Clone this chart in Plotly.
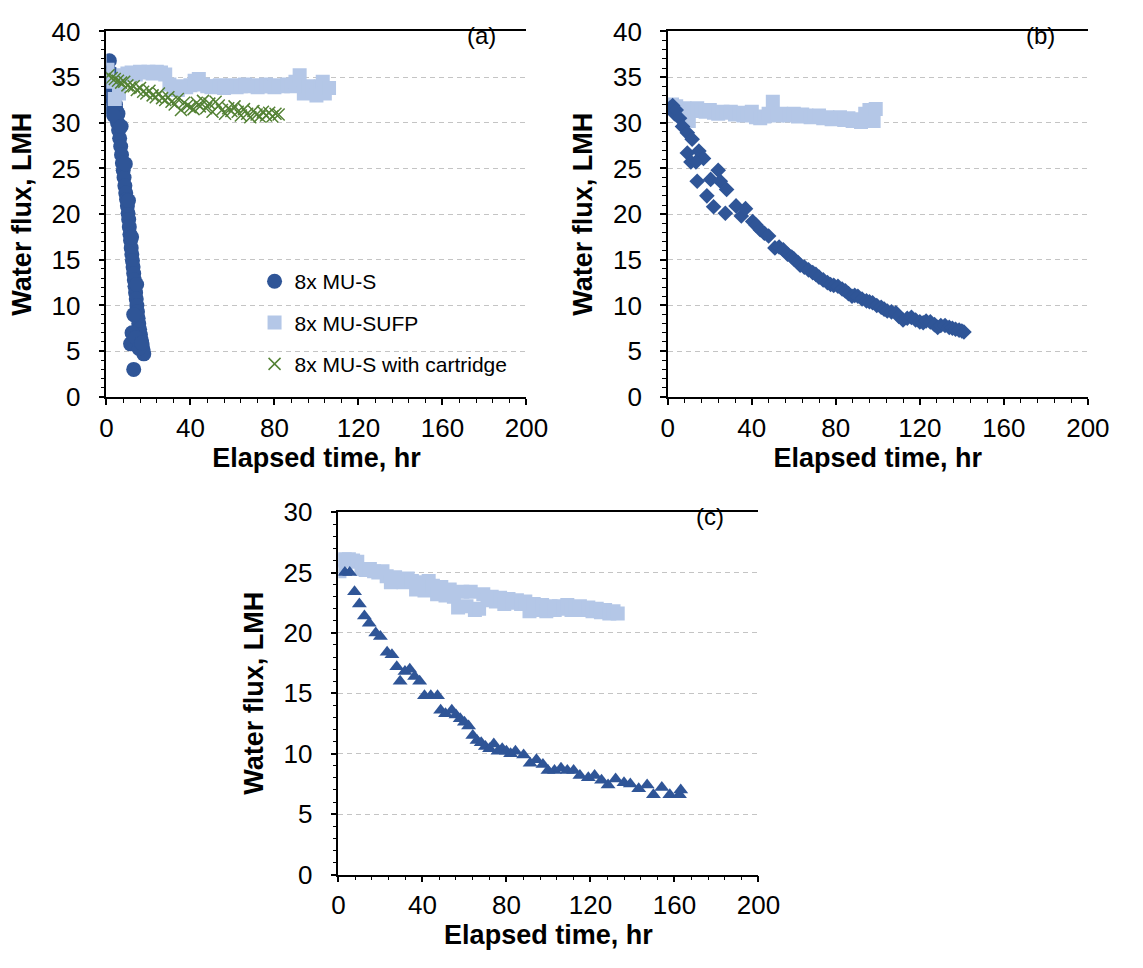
import plotly.graph_objects as go

# ---------------- data ----------------
# (a) 8x MU-S
a_mus_t = [0.3, 0.6, 1.0, 1.4, 1.8, 2.2, 2.6, 3.0, 3.4, 3.8, 4.3, 4.8, 5.3, 5.8, 6.3,
           6.8, 7.2, 7.6, 8.0, 8.4, 8.8, 9.2, 9.6, 10.0, 10.3, 10.6, 10.9, 11.2, 11.5,
           11.8, 12.1, 12.4, 12.7, 13.0, 13.3, 13.6, 13.9, 14.2, 14.5, 14.8, 15.1, 15.4,
           15.8, 16.2, 16.6, 17.0, 17.4, 17.8, 11.5, 12.2, 13.0, 14.0, 15.5, 16.8, 13.0,
           4.5, 5.5, 2.0, 1.0, 0.5, 3.5, 7.0, 9.0, 10.5, 12.0, 14.4]
a_mus_v = [31.8, 33.0, 35.5, 36.8, 34.2, 32.5, 31.2, 33.8, 32.6, 31.0, 32.0, 30.8, 30.0,
           29.2, 28.3, 27.4, 26.5, 25.6, 24.8, 24.0, 23.1, 22.3, 21.6, 20.9, 20.1, 19.4,
           18.6, 17.8, 17.1, 16.3, 15.6, 14.9, 14.2, 13.5, 12.8, 12.1, 11.4, 10.7, 10.0,
           9.3, 8.6, 8.0, 7.4, 6.8, 6.2, 5.7, 5.2, 4.7, 5.8, 7.0, 9.0, 6.5, 5.3, 5.9, 3.0,
           31.5, 31.0, 35.5, 34.0, 33.0, 30.8, 29.6, 25.5, 21.5, 17.5, 12.3]

# (a) 8x MU-SUFP
a_sufp_t = [0.5, 2, 4, 6, 8, 10, 12, 14, 16, 18, 20, 22, 24, 26, 28, 30, 32, 34, 36, 38,
            40, 42, 44, 46, 48, 50, 52, 54, 56, 58, 60, 62, 64, 66, 68, 70, 72, 74, 76,
            78, 80, 82, 84, 86, 88, 90, 92, 94, 96, 98, 100, 102, 103, 104, 106]
a_sufp_v = [35.8, 34.5, 32.6, 33.2, 35.2, 35.4, 35.5, 35.3, 35.6, 35.5, 35.6, 35.4, 35.6,
            35.5, 35.3, 34.2, 33.8, 33.6, 34.0, 33.9, 34.1, 34.6, 34.8, 34.2, 34.0, 33.9,
            34.0, 34.1, 33.8, 34.0, 34.1, 33.9, 34.0, 34.2, 34.0, 34.1, 33.9, 34.0, 34.2,
            34.0, 33.9, 34.1, 34.0, 34.2, 34.0, 34.5, 35.2, 33.2, 34.0, 33.6, 33.0, 34.0,
            34.5, 33.2, 33.8]

# (a) 8x MU-S with cartridge
a_cart_t = [1, 2.5, 4, 5.5, 7, 8.5, 10, 11.5, 13, 14.5, 16, 17.5, 19, 20.5, 22, 23.5, 25,
            26.5, 28, 29.5, 31, 32.5, 34, 35.5, 37, 38.5, 40, 41.5, 43, 44.5, 46, 47.5, 49,
            50.5, 52, 53.5, 55, 56.5, 58, 59.5, 61, 62.5, 64, 65.5, 67, 68.5, 70, 71.5, 73,
            74.5, 76, 77.5, 79, 80.5, 82]
a_cart_v = [35.2, 34.9, 34.8, 34.6, 34.4, 34.5, 34.1, 33.9, 34.0, 33.6, 33.8, 33.4, 33.2,
            33.5, 33.0, 32.8, 33.2, 32.7, 32.5, 32.8, 32.3, 32.0, 32.6, 31.4, 32.2, 31.9,
            31.7, 31.5, 32.2, 31.8, 32.4, 31.6, 32.1, 31.2, 32.3, 31.9, 31.4, 31.0, 31.6,
            31.3, 31.8, 31.2, 30.8, 31.5, 31.0, 30.6, 31.3, 30.9, 30.7, 31.2, 30.8, 31.1,
            30.7, 31.0, 30.9]

# (b) 8x MU-SUFP
b_sufp_t = [0, 2, 4, 6, 8, 10, 12, 14, 16, 18, 20, 22, 24, 26, 28, 30, 32, 34, 36, 38, 40,
            42, 44, 46, 48, 50, 52, 54, 56, 58, 60, 62, 64, 66, 68, 70, 72, 74, 76, 78, 80,
            82, 84, 86, 88, 90, 92, 94, 96, 98, 99]
b_sufp_v = [31.6, 32.0, 31.8, 31.5, 31.6, 30.2, 31.4, 31.6, 31.3, 31.2, 31.4, 31.1, 31.0,
            31.2, 31.1, 31.2, 30.9, 31.1, 30.8, 31.0, 31.2, 30.6, 30.5, 30.7, 31.0, 32.3,
            30.8, 31.0, 30.9, 30.8, 31.0, 30.7, 30.9, 30.8, 30.6, 30.7, 30.8, 30.5, 30.6,
            30.4, 30.5, 30.6, 30.3, 30.5, 30.2, 30.4, 30.1, 31.0, 31.4, 30.2, 31.5]

# (b) 8x MU-S
b_mus_t = [1.0, 2.3, 3.2, 4.0, 5.6, 7.0, 9.3, 11.6, 9.3, 14.8, 17.0, 11.0, 13.4, 24.0, 20.4,
           14.0, 25.0, 28.0, 18.6, 21.8, 27.4, 32.5, 35.0, 37.0, 40.4, 42.0, 44.0, 46.0,
           48.0, 51.0, 53.0, 55.0, 57.0, 59.0, 60.0, 62.0, 63.0, 65.0, 67.0, 69.0, 70.5,
           72.0, 74.0, 76.0, 77.5, 79.0, 81.0, 83.0, 84.5, 86.0, 87.7, 89.0, 90.5, 92.5,
           94.6, 96.0, 97.5, 99.5, 101.6, 103.0, 104.5, 106.5, 108.6, 110.0, 112.0, 114.0,
           116.0, 118.0, 120.0, 121.6, 123.0, 125.0, 127.0, 128.5, 130.0, 132.0, 134.0,
           135.5, 137.0, 138.7, 140.0, 141.0]
b_mus_v = [31.6, 31.9, 31.0, 31.4, 30.5, 29.6, 28.9, 28.2, 26.7, 26.9, 26.1, 25.7, 25.7,
           24.8, 23.8, 23.6, 23.6, 22.7, 22.0, 20.8, 20.1, 20.9, 19.8, 20.6, 19.2, 18.8,
           18.3, 17.9, 17.6, 16.3, 16.4, 16.1, 15.6, 15.3, 15.1, 14.7, 14.4, 14.2, 13.9,
           13.6, 13.4, 13.1, 12.8, 12.5, 12.3, 12.2, 12.1, 11.8, 11.6, 11.3, 11.0, 11.1,
           11.0, 10.7, 10.5, 10.4, 10.3, 10.0, 9.8, 9.6, 9.4, 9.3, 9.2, 8.8, 8.4, 8.6, 8.7,
           8.4, 8.2, 8.1, 8.3, 8.2, 7.9, 7.6, 7.8, 7.8, 7.6, 7.5, 7.4, 7.3, 7.2, 7.1]

# (c) 8x MU-SUFP
c_sufp_t = [0.5, 1.5, 3, 5, 7, 9, 11, 13, 15, 17, 19, 21, 23, 25, 27, 29, 31, 33, 35, 37,
            39, 41, 43, 45, 47, 49, 51, 53, 55, 57, 59, 61, 63, 65, 67, 69, 71, 73, 75, 77,
            79, 81, 83, 85, 87, 89, 91, 93, 95, 97, 99, 101, 103, 105, 107, 109, 111, 113,
            115, 117, 119, 121, 123, 125, 127, 129, 131, 133]
c_sufp_v = [25.1, 26.0, 26.1, 26.1, 26.0, 25.9, 25.3, 25.2, 25.3, 25.1, 25.0, 25.1, 24.7,
            24.2, 24.6, 24.4, 24.2, 24.5, 24.3, 23.6, 24.2, 23.5, 24.3, 23.9, 23.2, 23.8,
            23.1, 23.6, 23.0, 22.1, 23.4, 22.2, 23.4, 21.9, 22.0, 23.2, 22.7, 23.0, 22.6,
            22.9, 22.4, 22.8, 22.5, 22.7, 22.4, 22.6, 21.8, 22.4, 21.9, 22.3, 21.8, 22.2,
            21.9, 22.2, 22.0, 22.3, 21.9, 22.1, 22.2, 21.9, 22.1, 21.8, 22.0, 21.7, 21.9,
            21.6, 21.8, 21.6]

# (c) 8x MU-S
c_mus_t = [3.1, 5.4, 7.7, 10.0, 12.4, 14.7, 17.8, 20.0, 23.2, 25.5, 27.8, 29.4, 31.7, 34.0,
           36.3, 38.7, 41.0, 44.0, 47.2, 48.7, 51.0, 54.0, 56.0, 58.0, 60.0, 62.0, 64.0,
           66.0, 68.0, 70.0, 72.0, 74.0, 76.0, 78.0, 80.0, 82.0, 84.3, 88.2, 91.3, 94.3,
           97.4, 99.8, 102.9, 106.0, 109.0, 112.0, 115.0, 119.0, 122.0, 125.3, 128.4,
           132.0, 136.0, 139.0, 143.0, 147.0, 150.0, 154.0, 157.8, 162.4, 163.0]
c_mus_v = [25.0, 25.0, 23.4, 22.4, 21.4, 20.8, 20.0, 19.7, 18.4, 18.2, 17.2, 16.0, 16.8,
           17.0, 16.4, 16.0, 14.8, 14.8, 14.8, 13.6, 13.3, 13.6, 13.2, 12.9, 12.6, 12.3,
           11.5, 11.1, 10.9, 10.6, 10.4, 10.8, 10.2, 10.4, 10.2, 10.0, 10.2, 9.9, 9.2, 9.5,
           9.1, 8.6, 8.6, 8.8, 8.6, 8.6, 8.2, 8.0, 8.2, 7.8, 7.4, 7.9, 7.6, 7.5, 7.1, 7.4,
           6.6, 7.2, 6.6, 6.6, 7.0]

# ---------------- styling ----------------
DARK = "#2F5597"
LIGHT = "#B4C7E7"
GREEN = "#548235"
FONT = "Liberation Sans, Arial, sans-serif"
W, H = 1143, 968

fig = go.Figure()

# panel (a)
fig.add_trace(go.Scatter(x=a_mus_t, y=a_mus_v, mode="markers", name="8x MU-S",
                         legendgroup="g1",
                         marker=dict(symbol="circle", size=15, color=DARK),
                         xaxis="x", yaxis="y"))
fig.add_trace(go.Scatter(x=a_sufp_t, y=a_sufp_v, mode="markers", name="8x MU-SUFP",
                         legendgroup="g2",
                         marker=dict(symbol="square", size=14, color=LIGHT),
                         xaxis="x", yaxis="y"))
fig.add_trace(go.Scatter(x=a_cart_t, y=a_cart_v, mode="markers",
                         name="8x MU-S with cartridge", legendgroup="g3",
                         marker=dict(symbol="x-thin", size=12,
                                     line=dict(color=GREEN, width=1.5), color=GREEN),
                         xaxis="x", yaxis="y"))

# panel (b)
fig.add_trace(go.Scatter(x=b_sufp_t, y=b_sufp_v, mode="markers", showlegend=False,
                         marker=dict(symbol="square", size=14, color=LIGHT),
                         xaxis="x2", yaxis="y2"))
fig.add_trace(go.Scatter(x=b_mus_t, y=b_mus_v, mode="markers", showlegend=False,
                         marker=dict(symbol="diamond", size=12, color=DARK),
                         xaxis="x2", yaxis="y2"))

# panel (c)
fig.add_trace(go.Scatter(x=c_sufp_t, y=c_sufp_v, mode="markers", showlegend=False,
                         marker=dict(symbol="square", size=14, color=LIGHT),
                         xaxis="x3", yaxis="y3"))
fig.add_trace(go.Scatter(x=c_mus_t, y=c_mus_v, mode="markers", showlegend=False,
                         marker=dict(symbol="triangle-up", size=13, color=DARK),
                         xaxis="x3", yaxis="y3"))


def px_x(p):
    return p / W


def px_y(p):
    return 1 - p / H


def xaxis_style(x0, x1, anchor):
    return dict(domain=[px_x(x0), px_x(x1)], anchor=anchor, range=[0, 200],
                tick0=0, dtick=40, ticks="outside", ticklen=6, tickwidth=1.5,
                tickcolor="black", showline=True, linecolor="black", linewidth=1.5,
                mirror=True, showgrid=False, zeroline=False, ticklabelstandoff=1,
                tickfont=dict(family=FONT, size=26, color="black"),
                minor=dict(dtick=8, ticks="outside", ticklen=4, tickwidth=1.2,
                           tickcolor="black", showgrid=False),
                title=dict(text="<b>Elapsed time, hr</b>", standoff=6,
                           font=dict(family=FONT, size=27, color="black")))


def yaxis_style(y0, y1, ymax, anchor):
    return dict(domain=[px_y(y1), px_y(y0)], anchor=anchor, range=[0, ymax],
                tick0=0, dtick=5, ticks="outside", ticklen=6, tickwidth=1.5,
                tickcolor="black", showline=True, linecolor="black", linewidth=1.5,
                showgrid=True, gridcolor="#C4C4C4", gridwidth=1.2, griddash="5px,4px",
                zeroline=False, ticklabelstandoff=13,
                tickfont=dict(family=FONT, size=26, color="black"),
                minor=dict(dtick=1, ticks="outside", ticklen=4, tickwidth=1.2,
                           tickcolor="black", showgrid=False),
                title=dict(text="<b>Water flux, LMH</b>", standoff=12,
                           font=dict(family=FONT, size=27, color="black")))


# inner halves of the major ticks, so they cross the axis lines
def x_cross(x0, x1, anchor, over):
    return dict(domain=[px_x(x0), px_x(x1)], anchor=anchor, overlaying=over,
                range=[0, 200], tick0=0, dtick=40, ticks="inside", ticklen=4,
                tickwidth=1.5, tickcolor="black", showticklabels=False,
                showline=False, showgrid=False, zeroline=False)


def y_cross(y0, y1, ymax, anchor, over):
    return dict(domain=[px_y(y1), px_y(y0)], anchor=anchor, overlaying=over,
                range=[0, ymax], tick0=0, dtick=5, ticks="inside", ticklen=4,
                tickwidth=1.5, tickcolor="black", showticklabels=False,
                showline=False, showgrid=False, zeroline=False)


def panel_label(text, x, y):
    return dict(text=text, x=px_x(x), y=px_y(y), xref="paper", yref="paper",
                xanchor="center", yanchor="middle", showarrow=False,
                font=dict(family=FONT, size=24, color="black"))


fig.update_layout(
    width=W, height=H,
    margin=dict(l=0, r=0, t=0, b=0),
    paper_bgcolor="white", plot_bgcolor="white",
    font=dict(family=FONT, color="black"),
    xaxis=xaxis_style(102, 533, "y"),
    yaxis=yaxis_style(17, 394, 40, "x"),
    xaxis2=xaxis_style(678, 1109, "y2"),
    yaxis2=yaxis_style(17, 394, 40, "x2"),
    xaxis3=xaxis_style(340, 771, "y3"),
    yaxis3=yaxis_style(513, 887, 30, "x3"),
    xaxis4=x_cross(102, 533, "y", "x"),
    yaxis4=y_cross(17, 394, 40, "x", "y"),
    xaxis5=x_cross(678, 1109, "y2", "x2"),
    yaxis5=y_cross(17, 394, 40, "x2", "y2"),
    xaxis6=x_cross(340, 771, "y3", "x3"),
    yaxis6=y_cross(513, 887, 30, "x3", "y3"),
    legend=dict(x=px_x(254), y=px_y(254), xanchor="left", yanchor="top",
                bgcolor="rgba(0,0,0,0)", tracegroupgap=11,
                font=dict(family=FONT, size=21, color="black")),
    annotations=[
        panel_label("(a)", 487, 21),
        panel_label("(b)", 1060, 21),
        panel_label("(c)", 721, 518),
    ],
)

fig.write_html("out.html")
